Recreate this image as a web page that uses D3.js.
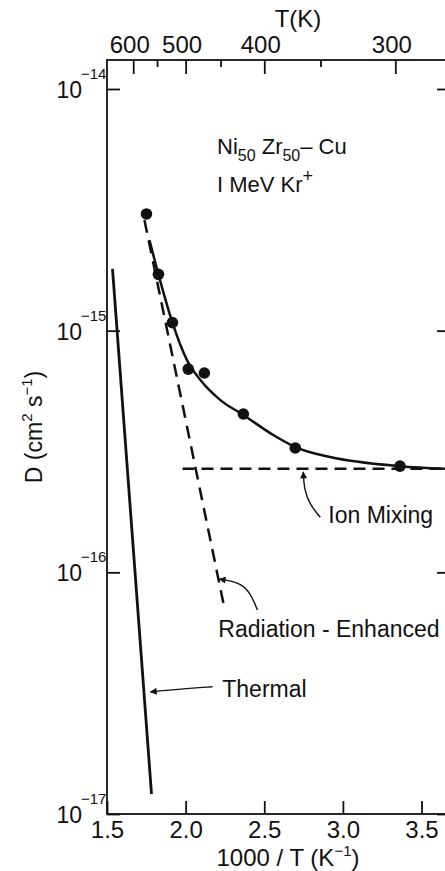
<!DOCTYPE html>
<html>
<head>
<meta charset="utf-8">
<script src="https://cdn.jsdelivr.net/npm/d3@7"></script>
<style>
  body { margin: 0; background: #fff; }
  svg { display: block; }
  text { font-family: "Liberation Sans", "DejaVu Sans", sans-serif; fill: #111; }
</style>
</head>
<body>
<svg id="chart" width="445" height="871"></svg>
<script>
// tick values
const xTicks = [1.5, 2.0, 2.5, 3.0, 3.5];
const tMajor = [600, 500, 400, 300];
const tMinor = [550, 450, 350];
const yDecades = [-14, -15, -16, -17];

// measured points (1000/T, D)
const invT = [1.751, 1.827, 1.916, 2.017, 2.119, 2.367, 2.697, 3.363];
const dMeasured = [3.04e-15, 1.71e-15, 1.08e-15, 6.93e-16, 6.68e-16, 4.52e-16, 3.27e-16, 2.75e-16];

// fitted curve through the points
const fitX = [1.770, 1.827, 1.916, 2.011, 2.094, 2.221, 2.367, 2.557, 2.697, 2.919, 3.363, 3.649];
const fitD = [2.37e-15, 1.71e-15, 1.08e-15, 7.50e-16, 6.25e-16, 5.16e-16, 4.48e-16, 3.70e-16, 3.30e-16, 3.00e-16, 2.75e-16, 2.68e-16];

// straight-line components
const thermalX = [1.535, 1.783];
const thermalD = [1.80e-15, 1.21e-17];
const radX = [1.738, 2.240];
const radD = [2.87e-15, 7.46e-17];
const ionX = [1.98, 3.68];
const ionD = [2.68e-16, 2.68e-16];

const svg = d3.select("#chart");

const x = d3.scaleLinear().domain([1.5, 3.681]).range([107, 450]);
const y = d3.scaleLog().domain([1e-17, Math.pow(10, -13.88)]).range([814, 60]);

const ink = "#111";
const axisW = 1.8;

// frame
svg.append("rect")
  .attr("x", x.range()[0]).attr("y", y.range()[1])
  .attr("width", x.range()[1] - x.range()[0])
  .attr("height", y.range()[0] - y.range()[1])
  .attr("fill", "none").attr("stroke", ink).attr("stroke-width", axisW);

// bottom axis
const gBottom = svg.append("g")
  .attr("transform", `translate(0,${y.range()[0]})`)
  .call(d3.axisBottom(x).tickValues(xTicks).tickSizeInner(-13).tickSizeOuter(0)
    .tickPadding(7).tickFormat(d3.format(".1f")));
gBottom.select(".domain").remove();
gBottom.selectAll("line").attr("stroke", ink).attr("stroke-width", axisW);
gBottom.selectAll("text").attr("font-size", 24).attr("font-family", null).attr("fill", ink);

// top axis (temperature)
const gTop = svg.append("g")
  .attr("transform", `translate(0,${y.range()[1]})`)
  .call(d3.axisTop(x).tickValues(tMajor.map(t => 1000 / t)).tickSizeInner(-14).tickSizeOuter(0)
    .tickPadding(7).tickFormat(v => Math.round(1000 / v)));
gTop.select(".domain").remove();
gTop.selectAll("line").attr("stroke", ink).attr("stroke-width", axisW);
gTop.selectAll("text").attr("font-size", 24).attr("font-family", null).attr("fill", ink)
  .attr("dx", -4);

const gTopMinor = svg.append("g")
  .attr("transform", `translate(0,${y.range()[1]})`)
  .call(d3.axisTop(x).tickValues(tMinor.map(t => 1000 / t)).tickSizeInner(-7).tickSizeOuter(0)
    .tickFormat(""));
gTopMinor.select(".domain").remove();
gTopMinor.selectAll("line").attr("stroke", ink).attr("stroke-width", axisW);

// left axis
const gLeft = svg.append("g")
  .attr("transform", `translate(${x.range()[0]},0)`)
  .call(d3.axisLeft(y).tickValues(yDecades.map(e => Math.pow(10, e))).tickSizeInner(-13)
    .tickSizeOuter(0).tickFormat(""));
gLeft.select(".domain").remove();
gLeft.selectAll("line").attr("stroke", ink).attr("stroke-width", axisW);

// right axis ticks
const gRight = svg.append("g")
  .attr("transform", `translate(${x.range()[1]},0)`)
  .call(d3.axisLeft(y).tickValues(yDecades.map(e => Math.pow(10, e))).tickSizeInner(13)
    .tickSizeOuter(0).tickFormat(""));
gRight.select(".domain").remove();
gRight.selectAll("line").attr("stroke", ink).attr("stroke-width", axisW);

// decade labels 10^n
const yLab = svg.append("g");
yDecades.forEach(e => {
  const yy = y(Math.pow(10, e));
  yLab.append("text").attr("x", 82).attr("y", yy + 9)
    .attr("text-anchor", "end").attr("font-size", 23).text("10");
  yLab.append("text").attr("x", 81).attr("y", yy - 10)
    .attr("font-size", 15).text("\u2212" + (-e));
});

// axis titles
svg.append("text").attr("x", 298).attr("y", 27).attr("text-anchor", "middle")
  .attr("font-size", 24).text("T(K)");

const xt = svg.append("text").attr("x", 288).attr("y", 866).attr("text-anchor", "middle")
  .attr("font-size", 24);
xt.append("tspan").text("1000 / T (K");
xt.append("tspan").attr("font-size", 15).attr("dy", -10).text("\u22121");
xt.append("tspan").attr("dy", 10).text(")");

const yt = svg.append("text").attr("transform", "translate(42,427) rotate(-90)")
  .attr("text-anchor", "middle").attr("font-size", 23);
yt.append("tspan").text("D (cm");
yt.append("tspan").attr("font-size", 15).attr("dy", -10).text("2");
yt.append("tspan").attr("dy", 10).text(" s");
yt.append("tspan").attr("font-size", 15).attr("dy", -10).text("\u22121");
yt.append("tspan").attr("dy", 10).text(")");

// lines
const line = d3.line().x(d => x(d[0])).y(d => y(d[1]));

svg.append("path")
  .datum(d3.zip(thermalX, thermalD))
  .attr("d", line).attr("fill", "none").attr("stroke", ink).attr("stroke-width", 2.8);

svg.append("path")
  .datum(d3.zip(radX, radD))
  .attr("d", line).attr("fill", "none").attr("stroke", ink).attr("stroke-width", 2.5)
  .attr("stroke-dasharray", "13,8");

svg.append("path")
  .datum(d3.zip(ionX, ionD))
  .attr("d", line).attr("fill", "none").attr("stroke", ink).attr("stroke-width", 2.5)
  .attr("stroke-dasharray", "12,7");

const curveLine = d3.line().x(d => x(d[0])).y(d => y(d[1])).curve(d3.curveMonotoneX);
svg.append("path")
  .datum(d3.zip(fitX, fitD))
  .attr("d", curveLine).attr("fill", "none").attr("stroke", ink).attr("stroke-width", 2.5);

// measured points
svg.append("g").selectAll("circle")
  .data(d3.zip(invT, dMeasured))
  .join("circle")
  .attr("cx", d => x(d[0])).attr("cy", d => y(d[1])).attr("r", 5.8).attr("fill", ink);

// annotation arrows
svg.append("defs").append("marker")
  .attr("id", "arrow").attr("viewBox", "0 0 10 10").attr("refX", 9).attr("refY", 5)
  .attr("markerWidth", 10).attr("markerHeight", 7).attr("markerUnits", "userSpaceOnUse")
  .attr("orient", "auto")
  .append("path").attr("d", "M0,0 L10,5 L0,10 z").attr("fill", ink);

const arrowLine = d3.line().x(d => x(d[0])).y(d => y(d[1])).curve(d3.curveBasis);
const arrows = [
  { xs: [2.856, 2.792, 2.754, 2.748], ds: [1.69e-16, 1.90e-16, 2.19e-16, 2.60e-16] },
  { xs: [2.456, 2.411, 2.335, 2.214], ds: [6.98e-17, 8.30e-17, 9.12e-17, 9.37e-17] },
  { xs: [2.170, 1.967, 1.776], ds: [3.36e-17, 3.29e-17, 3.20e-17] }
];
arrows.forEach(a => {
  svg.append("path").datum(d3.zip(a.xs, a.ds))
    .attr("d", arrowLine).attr("fill", "none").attr("stroke", ink).attr("stroke-width", 1.4)
    .attr("marker-end", "url(#arrow)");
});

// annotation labels
const labels = [
  { t: "Ion Mixing", x: 2.907, d: 1.60e-16 },
  { t: "Radiation - Enhanced", x: 2.208, d: 5.40e-17 },
  { t: "Thermal", x: 2.233, d: 3.05e-17 }
];
svg.append("g").selectAll("text").data(labels).join("text")
  .attr("x", d => x(d.x)).attr("y", d => y(d.d)).attr("font-size", 23).text(d => d.t);

// sample description
const t1 = svg.append("text").attr("x", 217).attr("y", 154).attr("font-size", 22);
t1.append("tspan").text("Ni");
t1.append("tspan").attr("font-size", 16).attr("dy", 7).text("50");
t1.append("tspan").attr("dy", -7).text(" Zr");
t1.append("tspan").attr("font-size", 16).attr("dy", 7).text("50");
t1.append("tspan").attr("dy", -7).text("\u2013 Cu");

const t2 = svg.append("text").attr("x", 217).attr("y", 192).attr("font-size", 22);
t2.append("tspan").text("I MeV  Kr");
t2.append("tspan").attr("font-size", 18).attr("dy", -10).text("+");
</script>
</body>
</html>
